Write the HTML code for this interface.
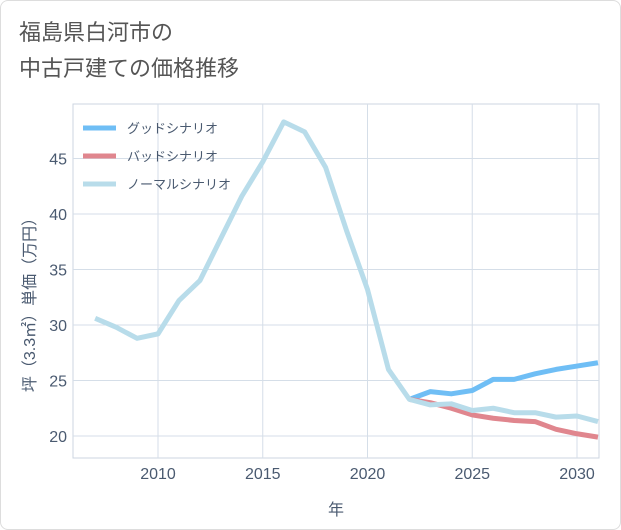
<!DOCTYPE html>
<html><head><meta charset="utf-8"><style>
body{margin:0;background:#fff;}
#wrap{position:relative;width:619px;height:528px;border:1px solid #ddd;border-radius:8px;background:#fff;overflow:hidden;font-family:"Liberation Sans","Noto Sans CJK JP",sans-serif;}
#title{position:absolute;left:18px;top:14px;font-size:22px;line-height:36px;color:#555;}
svg{position:absolute;left:0;top:0;}
</style></head><body>
<div id="wrap">
<div id="title">福島県白河市の<br>中古戸建ての価格推移</div>
<svg id="c" width="621" height="530"></svg>
</div>
<script>
const years=[2007,2008,2009,2010,2011,2012,2013,2014,2015,2016,2017,2018,2019,2020,2021,2022,2023,2024,2025,2026,2027,2028,2029,2030,2031];
const normal=[30.6,29.8,28.8,29.2,32.2,34.0,37.8,41.6,44.7,48.3,47.4,44.2,38.5,33.2,26.0,23.3,22.8,22.9,22.3,22.5,22.1,22.1,21.7,21.8,21.3];
const futureYears=[2022,2023,2024,2025,2026,2027,2028,2029,2030,2031];
const good=[23.3,24.0,23.8,24.1,25.1,25.1,25.6,26.0,26.3,26.6];
const bad=[23.3,23.0,22.5,21.9,21.6,21.4,21.3,20.6,20.2,19.9];
const xTicks=[2010,2015,2020,2025,2030];
const yTicks=[20,25,30,35,40,45];
const NS='http://www.w3.org/2000/svg';
const svg=document.getElementById('c');
const L=72,R=598,T=103,B=457;
const x=v=>157+(v-2010)*20.95;
const y=v=>435-(v-20)*11.1;
function mk(t,a){const e=document.createElementNS(NS,t);for(const k in a)e.setAttribute(k,a[k]);svg.appendChild(e);return e;}
const bg=mk('rect',{x:L,y:T,width:R-L,height:B-T,fill:'none',stroke:'#ccd6e0'});


xTicks.forEach(v=>{
 const g=mk('line',{x1:x(v),x2:x(v),y1:T,y2:B,stroke:'#d5dee8'});
 
 
 const t=mk('text',{x:x(v),y:478,'text-anchor':'middle','font-size':16,fill:'#4a5a70'});
 t.textContent=v;
 
 
});
yTicks.forEach(v=>{
 const g=mk('line',{x1:L,x2:R,y1:y(v),y2:y(v),stroke:'#d5dee8'});
 
 
 const t=mk('text',{x:66,y:y(v)+6,'text-anchor':'end','font-size':16,fill:'#4a5a70'});
 t.textContent=v;
 
 
});
const xt=mk('text',{x:335,y:514,'text-anchor':'middle','font-size':16,fill:'#4a5a70'});
xt.textContent='年';


const yt=mk('text',{x:0,y:0,'text-anchor':'middle','font-size':16,fill:'#4a5a70',transform:'translate(34,300) rotate(-90)'});
yt.textContent='坪（3.3㎡）単価（万円）';


const cp=mk('clipPath',{id:'cp'});
const cr=document.createElementNS(NS,'rect');cr.setAttribute('x',L);cr.setAttribute('y',T);cr.setAttribute('width',R-L);cr.setAttribute('height',B-T);cp.appendChild(cr);
function line(xs,ys,col,name){
 const p=mk('polyline',{points:xs.map((v,i)=>x(v)+','+y(ys[i])).join(' '),fill:'none',stroke:col,'stroke-width':5,'stroke-linejoin':'round','clip-path':'url(#cp)'});
 
 
}
line(futureYears,good,'#6fbef5','good-scenario-line');
line(futureYears,bad,'#e0868e','bad-scenario-line');
line(years,normal,'#b8dcea','normal-scenario-line');
[['グッドシナリオ','#6fbef5'],['バッドシナリオ','#e0868e'],['ノーマルシナリオ','#b8dcea']].forEach((d,i)=>{
 const yy=127+i*28;
 const l=mk('line',{x1:82,x2:115,y1:yy,y2:yy,stroke:d[1],'stroke-width':5});
 
 
 const t=mk('text',{x:126,y:yy+5,'font-size':13,fill:'#4a5a70'});
 t.textContent=d[0];
 
 
});
</script>
</body></html>
